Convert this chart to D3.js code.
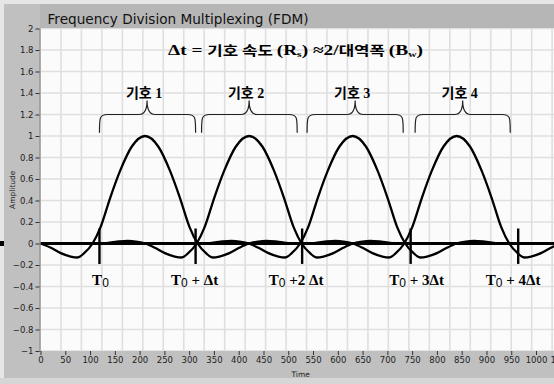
<!DOCTYPE html>
<html>
<head>
<meta charset="utf-8">
<script src="https://cdn.jsdelivr.net/npm/d3@7/dist/d3.min.js"></script>
<style>
  html, body { margin: 0; padding: 0; background: #c0c0c0; }
  svg { display: block; }
</style>
</head>
<body>
<svg id="chart" width="554" height="384"></svg>
<script>
// ---------------- DATA ----------------
const chartTitle = "Frequency Division Multiplexing (FDM)";
const xAxisTitle = "Time";
const yAxisTitle = "Amplitude";

const xTickValues = [0, 50, 100, 150, 200, 250, 300, 350, 400, 450, 500, 550, 600, 650, 700, 750, 800, 850, 900, 950, 1000, 1050];
const yTickValues = [-1, -0.8, -0.6, -0.4, -0.2, 0, 0.2, 0.4, 0.6, 0.8, 1, 1.2, 1.4, 1.6, 1.8, 2];

// symbol pulses: [time, amplitude]
const symbol1 = [[0,0],[21,-0.04],[41,-0.09],[61,-0.122],[75,-0.13],[88,-0.09],[105,0],[121,0.15],[141,0.43],[161,0.68],[184,0.9],[211,1],[238,0.9],[261,0.68],[281,0.43],[301,0.15],[317,0],[334,-0.09],[347,-0.13],[361,-0.122],[381,-0.09],[401,-0.04],[421,0],[436,0.015],[456,0.025],[481,0.015],[511,0],[1050,0]];
const symbol2 = [[0,0],[121,0],[151,0.015],[176,0.025],[196,0.015],[211,0],[231,-0.04],[251,-0.09],[271,-0.122],[285,-0.13],[298,-0.09],[315,0],[331,0.15],[351,0.43],[371,0.68],[394,0.9],[421,1],[448,0.9],[471,0.68],[491,0.43],[511,0.15],[527,0],[544,-0.09],[557,-0.13],[571,-0.122],[591,-0.09],[611,-0.04],[631,0],[646,0.015],[666,0.025],[691,0.015],[721,0],[1050,0]];
const symbol3 = [[0,0],[330,0],[360,0.015],[385,0.025],[405,0.015],[420,0],[440,-0.04],[460,-0.09],[480,-0.122],[494,-0.13],[507,-0.09],[524,0],[540,0.15],[560,0.43],[580,0.68],[603,0.9],[630,1],[657,0.9],[680,0.68],[700,0.43],[720,0.15],[736,0],[753,-0.09],[766,-0.13],[780,-0.122],[800,-0.09],[820,-0.04],[840,0],[855,0.015],[875,0.025],[900,0.015],[930,0],[1050,0]];
const symbol4 = [[0,0],[540,0],[570,0.015],[595,0.025],[615,0.015],[630,0],[650,-0.04],[670,-0.09],[690,-0.122],[704,-0.13],[717,-0.09],[734,0],[750,0.15],[770,0.43],[790,0.68],[813,0.9],[840,1],[867,0.9],[890,0.68],[910,0.43],[930,0.15],[946,0],[963,-0.09],[976,-0.13],[990,-0.122],[1010,-0.09],[1030,-0.04],[1050,0]];
const baselineSeries = [[0,0],[1050,0]];

// symbol-boundary markers (time) and their labels
const markerTimes = [119, 313, 528, 747, 964];
const markerSuffix = ["", " + Δt", " +2 Δt", " + 3Δt", " + 4Δt"];

// braces over each symbol
const braceStart = [119, 325, 538, 756];
const braceEnd   = [313, 518, 732, 948];
const braceMid   = [215, 421, 635, 852];
const braceLabels = ["기호 1", "기호 2", "기호 3", "기호 4"];

// ---------------- LAYOUT ----------------
const W = 554, H = 384;
const plotLeft = 40.5, plotRight = 560.8, plotTop = 28.5, plotBottom = 351;
const svg = d3.select("#chart");

const x = d3.scaleLinear().domain([0, 1050]).range([plotLeft, plotRight]);
const y = d3.scaleLinear().domain([-1, 2]).range([plotBottom, plotTop]);

// panel background
svg.append("rect").attr("x",0).attr("y",0).attr("width",W).attr("height",H).attr("fill","#c0c0c0");
svg.append("rect").attr("x",40).attr("y",4).attr("width",W-40).attr("height",24).attr("fill","#b6b6b6");
svg.append("rect").attr("x",0).attr("y",0).attr("width",W).attr("height",4).attr("fill","#e6e6e6");
svg.append("rect").attr("x",0).attr("y",0).attr("width",4).attr("height",H).attr("fill","#e6e6e6");
svg.append("rect").attr("x",0).attr("y",378).attr("width",W).attr("height",6).attr("fill","#d6d6d6");

// plot area
svg.append("defs").append("clipPath").attr("id","clip")
  .append("rect").attr("x",plotLeft).attr("y",plotTop).attr("width",plotRight-plotLeft).attr("height",plotBottom-plotTop);
svg.append("rect").attr("x",plotLeft).attr("y",plotTop).attr("width",plotRight-plotLeft).attr("height",plotBottom-plotTop).attr("fill","#fbfbfb");

const plot = svg.append("g").attr("clip-path","url(#clip)");

// grid
const gridStep = 41.3;
plot.append("g").selectAll("line").data(d3.range(gridStep, 1100, gridStep)).join("line")
  .attr("x1", d => x(d)).attr("x2", d => x(d)).attr("y1", plotTop).attr("y2", plotBottom)
  .attr("stroke", "#dfdfdf").attr("stroke-width", 1.6);
plot.append("g").selectAll("line").data(yTickValues).join("line")
  .attr("x1", plotLeft).attr("x2", plotRight).attr("y1", d => y(d)).attr("y2", d => y(d))
  .attr("stroke", "#dfdfdf").attr("stroke-width", 1.6);

// axis lines
svg.append("line").attr("x1",plotLeft-0.5).attr("x2",plotLeft-0.5).attr("y1",plotTop).attr("y2",plotBottom+1)
  .attr("stroke","#8a8a8a").attr("stroke-width",1.2);

// y axis
const yAxis = d3.axisLeft(y).tickValues(yTickValues).tickSize(4).tickPadding(2)
  .tickFormat(d => d3.format("")(+d.toFixed(1)));
const gy = svg.append("g").attr("transform", `translate(${plotLeft-1},0)`).call(yAxis);
gy.select(".domain").remove();
gy.selectAll("line").attr("stroke","#333");
gy.selectAll("text").attr("font-family","DejaVu Sans, sans-serif").attr("font-size",8.5).attr("fill","#222");

// x axis
const xAxis = d3.axisBottom(x).tickValues(xTickValues).tickSize(4).tickPadding(2).tickFormat(d3.format("d"));
const gx = svg.append("g").attr("transform", `translate(0,${plotBottom})`).call(xAxis);
gx.select(".domain").remove();
gx.selectAll("line").attr("stroke","#333");
gx.selectAll("text").attr("font-family","DejaVu Sans, sans-serif").attr("font-size",8.5).attr("fill","#222");

// axis titles
svg.append("text").attr("x", x(525)).attr("y", 377).attr("text-anchor","middle")
  .attr("font-family","DejaVu Sans, sans-serif").attr("font-size",7.5).attr("fill","#222").text(xAxisTitle);
svg.append("text").attr("transform", `translate(15,${(plotTop+plotBottom)/2}) rotate(-90)`).attr("text-anchor","middle")
  .attr("font-family","DejaVu Sans, sans-serif").attr("font-size",7.5).attr("fill","#222").text(yAxisTitle);

// left-edge cursor mark
svg.append("rect").attr("x",0).attr("y",y(0)-2.5).attr("width",4).attr("height",5).attr("fill","#000");

// title
svg.append("text").attr("x",47.5).attr("y",23.5)
  .attr("font-family","DejaVu Sans, Tahoma, sans-serif").attr("font-size",14)
  .attr("textLength",261).attr("lengthAdjust","spacingAndGlyphs")
  .attr("fill","#111").text(chartTitle);

// curves
const line = d3.line().x(d => x(d[0])).y(d => y(d[1])).curve(d3.curveMonotoneX);
plot.append("path").datum(baselineSeries).attr("d", line).attr("fill","none").attr("stroke","#000").attr("stroke-width",3);
[symbol1, symbol2, symbol3, symbol4].forEach(s => {
  plot.append("path").datum(s).attr("d", line).attr("fill","none")
    .attr("stroke","#000").attr("stroke-width",2.3).attr("stroke-linejoin","round");
});

// markers
plot.append("g").selectAll("line").data(markerTimes).join("line")
  .attr("x1", d => x(d)).attr("x2", d => x(d)).attr("y1", y(0.14)).attr("y2", y(-0.19))
  .attr("stroke","#000").attr("stroke-width",2.4);

// marker labels
const labelDx = [1, -1, -6, 6, -5];
const ml = svg.append("g").selectAll("text").data(markerTimes).join("text")
  .attr("x", (d,i) => x(d) + labelDx[i]).attr("y", y(-0.39)).attr("text-anchor","middle")
  .attr("font-family","Liberation Serif, serif").attr("font-weight","bold").attr("font-size",15).attr("fill","#000");
ml.append("tspan").text("T");
ml.append("tspan").attr("font-family","Liberation Sans, Arial, sans-serif").attr("font-weight","normal")
  .attr("font-size",12).attr("dy",2).text("0");
ml.append("tspan").attr("dy",-2).text((d,i) => markerSuffix[i]);

// braces
const yb = y(1.03), yh = y(1.2), yt = y(1.33);
function bracePath(a, m, b) {
  const x0 = x(a), xm = x(m), x1 = x(b);
  return `M${x0},${yb} C${x0},${yh+3} ${x0},${yh} ${x0+8},${yh} L${xm-8},${yh} C${xm-2},${yh} ${xm},${yh-5} ${xm},${yt} ` +
         `C${xm},${yh-5} ${xm+2},${yh} ${xm+8},${yh} L${x1-8},${yh} C${x1},${yh} ${x1},${yh+3} ${x1},${yb}`;
}
svg.append("g").selectAll("path").data(braceStart).join("path")
  .attr("d", (d,i) => bracePath(d, braceMid[i], braceEnd[i]))
  .attr("fill","none").attr("stroke","#222").attr("stroke-width",1.2);

// brace labels
const bl = svg.append("g").selectAll("text").data(braceLabels).join("text")
  .attr("x", (d,i) => x(braceMid[i]) - 3).attr("y", y(1.35)).attr("text-anchor","middle")
  .attr("fill","#000").attr("font-size",14);
bl.append("tspan").attr("font-family","Noto Sans CJK KR, sans-serif").attr("font-weight","bold").text(d => d.split(" ")[0]);
bl.append("tspan").attr("font-family","Liberation Serif, serif").attr("font-weight","bold").text(d => "  " + d.split(" ")[1]);

// top formula annotation
const ft = svg.append("text").attr("x",168).attr("y",y(1.75)).attr("fill","#000")
  .attr("font-size",15).attr("font-weight","bold")
  .attr("textLength",255).attr("lengthAdjust","spacingAndGlyphs");
const serif = "Liberation Serif, serif", kr = "Noto Sans CJK KR, sans-serif";
ft.append("tspan").attr("font-family",serif).text("Δt = ");
ft.append("tspan").attr("font-family",kr).attr("font-size",13).text("기호 속도 ");
ft.append("tspan").attr("font-family",serif).text("(R");
ft.append("tspan").attr("font-family",serif).attr("font-size",9).attr("dy",2).text("s");
ft.append("tspan").attr("font-family",serif).attr("dy",-2).text(") ≈2/");
ft.append("tspan").attr("font-family",kr).attr("font-size",13).text("대역폭 ");
ft.append("tspan").attr("font-family",serif).text("(B");
ft.append("tspan").attr("font-family",serif).attr("font-size",9).attr("dy",2).text("w");
ft.append("tspan").attr("font-family",serif).attr("dy",-2).text(")");
</script>
</body>
</html>
